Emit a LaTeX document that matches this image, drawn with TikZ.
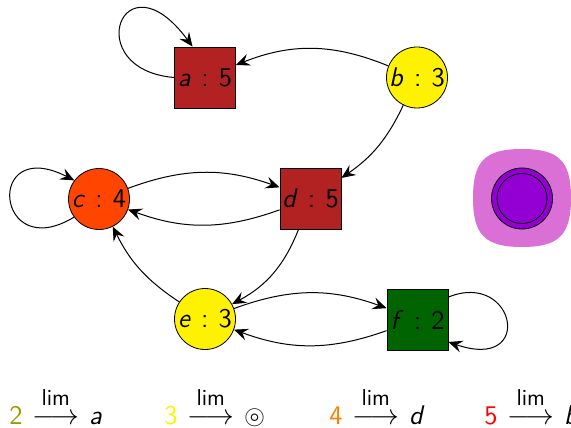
\documentclass[tikz,border=0pt]{standalone}
\usepackage{amsmath,amssymb}
\usepackage{fontspec}
\usetikzlibrary{arrows.meta}

\definecolor{firebrick}{HTML}{B22222}
\definecolor{orangered}{HTML}{FF4500}
\definecolor{dkgreen}{HTML}{006400}
\definecolor{dkviolet}{HTML}{9400D3}
\definecolor{orchidc}{HTML}{DA70D6}
\definecolor{olivec}{HTML}{999900}
\definecolor{orangec}{HTML}{FF8000}

% state label "x : n" in sans serif
\newcommand\statelbl[2]{\textsl{#1}\hspace{0.38em}:\hspace{0.38em}#2}
% "lim" over a long arrow
\newcommand\limarrow{\hspace{5pt}$\mathrel{\mathop{\longrightarrow}\limits^{\raisebox{1.5pt}{\fontsize{11.5}{12}\selectfont\sffamily lim}}}$\hspace{5pt}}

\begin{document}
\begin{tikzpicture}[x=0.5pt,y=-0.5pt,
  font=\fontsize{13.5}{16}\selectfont\sffamily,
  state/.style={draw=black, line width=0.4pt, inner sep=0pt, minimum size=30.5pt},
  sqstate/.style={state, rectangle, fill=firebrick},
  rdstate/.style={state, circle, fill=yellow},
  link/.style={-{Stealth[length=7pt,width=6pt,inset=2.6pt]}, line width=0.5pt},
  legend/.style={anchor=base west, inner sep=0pt}]

\useasboundingbox (0,0) rectangle (571,427);

% states
\node[sqstate] (a) at (205,77.5) {\statelbl{a}{5}};
\node[rdstate] (b) at (417,77.5) {\statelbl{b}{3}};
\node[rdstate, fill=orangered] (c) at (99,199) {\statelbl{c}{4}};
\node[sqstate] (d) at (310.5,198.5) {\statelbl{d}{5}};
\node[rdstate] (e) at (205,319) {\statelbl{e}{3}};
\node[sqstate, fill=dkgreen] (f) at (417.5,319.5) {\statelbl{f}{2}};

% final-state marker on its soft square backdrop
\fill[orchidc] (473,198) .. controls (473,161) and (485,149) .. (522,149)
  .. controls (559,149) and (571,161) .. (571,198)
  .. controls (571,235) and (559,247) .. (522,247)
  .. controls (485,247) and (473,235) .. (473,198) -- cycle;
\node[state, circle, fill=dkviolet] (p) at (522,198.5) {};
\draw[line width=0.4pt] (p.center) circle[radius=12.5pt];

% transitions
\draw[link] (b) to[bend right=22] (a);
\draw[link] (b) to[bend left=15] (d);
\draw[link] (c) to[bend left=20] (d);
\draw[link] (d) to[bend left=20] (c);
\draw[link] (d) to[bend left=20] (e);
\draw[link] (e) to[bend left=15] (c);
\draw[link] (e) to[bend left=20] (f);
\draw[link] (f) to[bend left=20] (e);

% self-loops
\draw[link] (a.west) .. controls +(-95,-8) and +(-70,-95) .. (a.112);
\draw[link] (c.216) .. controls +(-79,48) and +(-90,-46) .. (c.143);
\draw[link] (f.36) .. controls +(67,-27) and +(87,30) .. (f.-36);

% limits
\node[legend] (l2) at (9,424) {{\color{olivec}2}\limarrow\textsl{a}};
\node[legend] (l3) at (164,424) {{\color{yellow}3}\limarrow$\circledcirc$};
\node[legend] (l4) at (329,424) {{\color{orangec}4}\limarrow\textsl{d}};
\node[legend] (l5) at (484,424) {{\color{red}5}\limarrow\textsl{b}};
\end{tikzpicture}
\end{document}
